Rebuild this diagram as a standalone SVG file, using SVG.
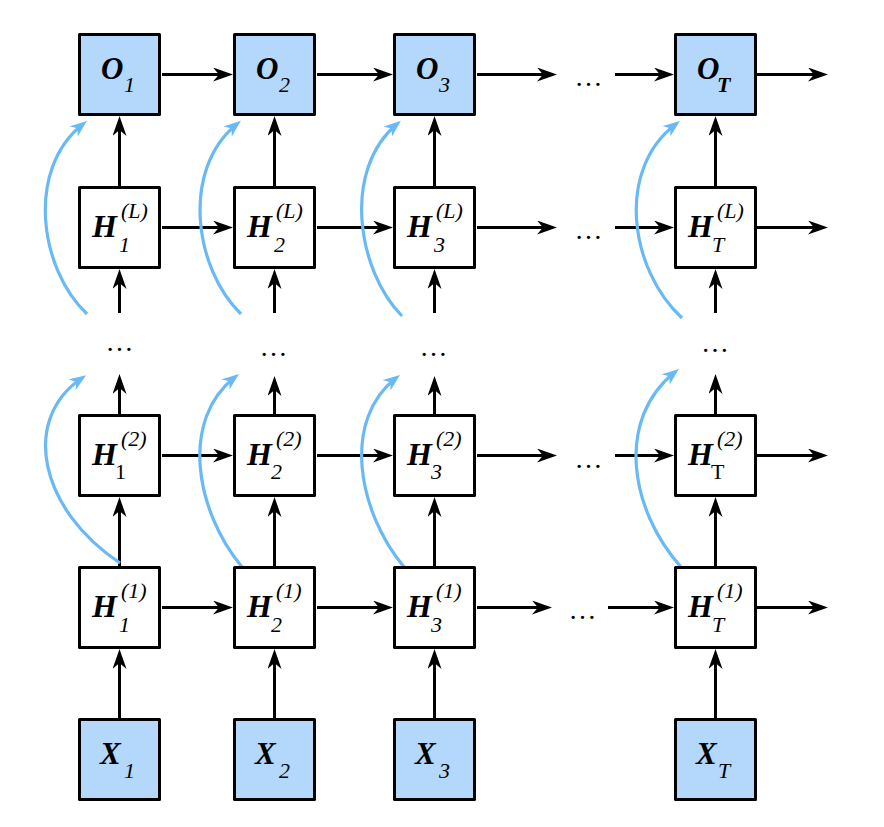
<svg xmlns="http://www.w3.org/2000/svg" width="884" height="827" viewBox="0 0 884 827">
<style>
.box{stroke:#000;stroke-width:3;stroke-linejoin:round}
.io{fill:#b3d8fc}
.hid{fill:#fff}
.m{font-family:"Liberation Serif","Times New Roman",serif;font-weight:bold;font-style:italic;font-size:31px;fill:#000}
.h{font-family:"Liberation Serif","Times New Roman",serif;font-weight:bold;font-style:italic;font-size:32px;fill:#000}
.s{font-family:"Liberation Serif","Times New Roman",serif;font-style:italic;font-size:22px;fill:#000}
.u{font-family:"Liberation Serif","Times New Roman",serif;font-size:22px;fill:#000}
.sb{font-family:"Liberation Serif","Times New Roman",serif;font-style:italic;font-weight:bold;font-size:22px;fill:#000}
.d{font-family:"Liberation Serif","Times New Roman",serif;font-size:28px;fill:#000;text-anchor:middle}
.a{stroke:#000;stroke-width:3;fill:none;marker-end:url(#ah)}
.c{stroke:#69b9f5;stroke-width:3.2;fill:none;marker-end:url(#bh)}
</style>
<defs>
<marker id="ah" viewBox="0 0 20 14" markerWidth="20" markerHeight="14" markerUnits="userSpaceOnUse" refX="14" refY="7" orient="auto"><path d="M0,0 L20,7 L0,14 L6,7 z" fill="#000"/></marker>
<marker id="bh" viewBox="0 0 17 13" markerWidth="17" markerHeight="13" markerUnits="userSpaceOnUse" refX="12" refY="6.5" orient="auto"><path d="M0,0 L17,6.5 L0,13 L5,6.5 z" fill="#69b9f5"/></marker>
</defs>
<g id="connectors">
<path class="a" d="M162,74.5 H227"/>
<path class="a" d="M317,74.5 H387"/>
<path class="a" d="M477,74.5 H551"/>
<path class="a" d="M615,74.5 H668"/>
<path class="a" d="M757,74.5 H822"/>
<path class="a" d="M162,227.5 H227"/>
<path class="a" d="M317,227.5 H387"/>
<path class="a" d="M477,227.5 H551"/>
<path class="a" d="M615,227.5 H668"/>
<path class="a" d="M757,227.5 H822"/>
<path class="a" d="M162,455.5 H227"/>
<path class="a" d="M317,455.5 H387"/>
<path class="a" d="M477,455.5 H551"/>
<path class="a" d="M615,455.5 H668"/>
<path class="a" d="M757,455.5 H822"/>
<path class="a" d="M162,607.5 H227"/>
<path class="a" d="M317,607.5 H387"/>
<path class="a" d="M477,607.5 H546"/>
<path class="a" d="M608,607.5 H668"/>
<path class="a" d="M757,607.5 H822"/>
<path class="a" d="M119.5,186 V122"/>
<path class="a" d="M274.5,186 V122"/>
<path class="a" d="M434.5,186 V122"/>
<path class="a" d="M715.5,186 V122"/>
<path class="a" d="M119.5,313 V275"/>
<path class="a" d="M274.5,313 V275"/>
<path class="a" d="M434.5,313 V275"/>
<path class="a" d="M715.5,313 V275"/>
<path class="a" d="M119.5,414 V380"/>
<path class="a" d="M274.5,414 V382"/>
<path class="a" d="M434.5,414 V382"/>
<path class="a" d="M715.5,414 V380"/>
<path class="a" d="M119.5,566 V503"/>
<path class="a" d="M274.5,566 V503"/>
<path class="a" d="M434.5,566 V503"/>
<path class="a" d="M715.5,566 V503"/>
<path class="a" d="M119.5,718 V655"/>
<path class="a" d="M274.5,718 V655"/>
<path class="a" d="M434.5,718 V655"/>
<path class="a" d="M715.5,718 V655"/>
<path class="c" d="M120,563 C40,510 20,420 82,378"/>
<path class="c" d="M242,567 C195,510 180,420 235,377"/>
<path class="c" d="M404,567 C357,510 342,420 396,378"/>
<path class="c" d="M681,567 C630,510 615,420 675,372"/>
<path class="c" d="M87,314 C40,270 25,170 83,124"/>
<path class="c" d="M241,314 C195,270 180,170 237,124"/>
<path class="c" d="M402,316 C357,270 342,170 397,124"/>
<path class="c" d="M682,318 C630,270 615,170 676,124"/>
</g>
<g id="ellipses">
<text class="d" x="588.5" y="86">…</text>
<text class="d" x="588.5" y="239">…</text>
<text class="d" x="588.5" y="468">…</text>
<text class="d" x="582.5" y="619">…</text>
<text class="d" x="119.5" y="351">…</text>
<text class="d" x="273.5" y="356">…</text>
<text class="d" x="433.5" y="356">…</text>
<text class="d" x="715" y="352">…</text>
</g>
<g id="O1"><rect class="box io" x="79.5" y="34.5" width="80" height="80"/><text class="m" x="101" y="79">O</text><text class="s" x="124" y="92">1</text></g>
<g id="O2"><rect class="box io" x="234.5" y="34.5" width="80" height="80"/><text class="m" x="256" y="79">O</text><text class="s" x="279" y="92">2</text></g>
<g id="O3"><rect class="box io" x="394.5" y="34.5" width="80" height="80"/><text class="m" x="416" y="79">O</text><text class="s" x="439" y="92">3</text></g>
<g id="OT"><rect class="box io" x="675.5" y="34.5" width="80" height="80"/><text class="m" x="697" y="79">O</text><text class="sb" x="717" y="92">T</text></g>
<g id="HL1"><rect class="box hid" x="79.5" y="187.5" width="80" height="80"/><text class="h" x="92" y="237">H</text><text class="s" x="121" y="218">(L)</text><text class="s" x="119" y="252">1</text></g>
<g id="HL2"><rect class="box hid" x="234.5" y="187.5" width="80" height="80"/><text class="h" x="247" y="237">H</text><text class="s" x="276" y="218">(L)</text><text class="s" x="274" y="252">2</text></g>
<g id="HL3"><rect class="box hid" x="394.5" y="187.5" width="80" height="80"/><text class="h" x="407" y="237">H</text><text class="s" x="436" y="218">(L)</text><text class="s" x="434" y="252">3</text></g>
<g id="HLT"><rect class="box hid" x="675.5" y="187.5" width="80" height="80"/><text class="h" x="688" y="237">H</text><text class="s" x="717" y="218">(L)</text><text class="s" x="712" y="252">T</text></g>
<g id="H21"><rect class="box hid" x="79.5" y="415.5" width="80" height="80"/><text class="h" x="92" y="465">H</text><text class="s" x="121" y="446">(2)</text><text class="u" x="115" y="479">1</text></g>
<g id="H22"><rect class="box hid" x="234.5" y="415.5" width="80" height="80"/><text class="h" x="247" y="465">H</text><text class="s" x="276" y="446">(2)</text><text class="s" x="271" y="479">2</text></g>
<g id="H23"><rect class="box hid" x="394.5" y="415.5" width="80" height="80"/><text class="h" x="407" y="465">H</text><text class="s" x="436" y="446">(2)</text><text class="s" x="431" y="479">3</text></g>
<g id="H2T"><rect class="box hid" x="675.5" y="415.5" width="80" height="80"/><text class="h" x="688" y="465">H</text><text class="s" x="717" y="446">(2)</text><text class="u" x="711" y="479">T</text></g>
<g id="H11"><rect class="box hid" x="79.5" y="567.5" width="80" height="80"/><text class="h" x="92" y="617">H</text><text class="s" x="121" y="598">(1)</text><text class="s" x="119" y="632">1</text></g>
<g id="H12"><rect class="box hid" x="234.5" y="567.5" width="80" height="80"/><text class="h" x="247" y="617">H</text><text class="s" x="276" y="598">(1)</text><text class="s" x="271" y="632">2</text></g>
<g id="H13"><rect class="box hid" x="394.5" y="567.5" width="80" height="80"/><text class="h" x="407" y="617">H</text><text class="s" x="436" y="598">(1)</text><text class="s" x="431" y="632">3</text></g>
<g id="H1T"><rect class="box hid" x="675.5" y="567.5" width="80" height="80"/><text class="h" x="688" y="617">H</text><text class="s" x="717" y="598">(1)</text><text class="s" x="712" y="632">T</text></g>
<g id="X1"><rect class="box io" x="79.5" y="719.5" width="80" height="80"/><text class="m" x="100" y="764">X</text><text class="s" x="124" y="778">1</text></g>
<g id="X2"><rect class="box io" x="234.5" y="719.5" width="80" height="80"/><text class="m" x="255" y="764">X</text><text class="s" x="279" y="778">2</text></g>
<g id="X3"><rect class="box io" x="394.5" y="719.5" width="80" height="80"/><text class="m" x="415" y="764">X</text><text class="s" x="439" y="778">3</text></g>
<g id="XT"><rect class="box io" x="675.5" y="719.5" width="80" height="80"/><text class="m" x="696" y="764">X</text><text class="s" x="718" y="778">T</text></g>
</svg>
